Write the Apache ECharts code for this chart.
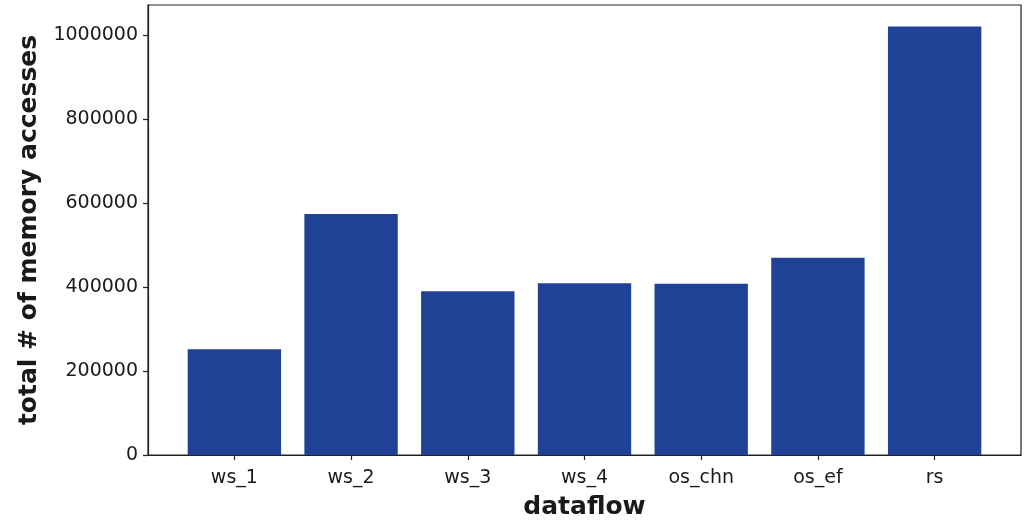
<!DOCTYPE html>
<html>
<head>
<meta charset="utf-8">
<script src="https://cdn.jsdelivr.net/npm/echarts@6/dist/echarts.min.js"></script>
<style>
  html, body { margin: 0; padding: 0; background: #fff; }
  #chart { width: 1029px; height: 529px; }
</style>
</head>
<body>
<div id="chart"></div>
<script>
// Memory accesses per dataflow
const categories = ['ws_1', 'ws_2', 'ws_3', 'ws_4', 'os_chn', 'os_ef', 'rs'];
const accesses = [252000, 574000, 390000, 409000, 408000, 470000, 1021000];
const yTicks = [0, 200000, 400000, 600000, 800000, 1000000];

const GRID = { left: 148, right: 8, top: 5, bottom: 74 };
const WIDTH = 1029;
const BAR_FRAC = 0.8;
const xMin = -BAR_FRAC / 2 - 0.05 * (categories.length - 1 + BAR_FRAC);
const xMax = categories.length - 1 + BAR_FRAC / 2 + 0.05 * (categories.length - 1 + BAR_FRAC);
const unitPx = (WIDTH - GRID.left - GRID.right) / (xMax - xMin);
const yMax = Math.max(...accesses) * 1.05;

const chart = echarts.init(document.getElementById('chart'), null, { renderer: 'canvas' });
const textColor = '#1a1a1a';
const fontFamily = '"DejaVu Sans", sans-serif';

chart.setOption({
  animation: false,
  backgroundColor: '#fff',
  grid: {
    left: GRID.left, right: GRID.right, top: GRID.top, bottom: GRID.bottom,
    show: true, borderColor: '#222', borderWidth: 1.2, backgroundColor: 'transparent'
  },
  xAxis: {
    type: 'value',
    min: xMin,
    max: xMax,
    splitLine: { show: false },
    axisLine: { show: true, onZero: false, lineStyle: { color: '#222', width: 1.2 } },
    axisTick: {
      show: true, length: 5, inside: false,
      customValues: categories.map((_, i) => i),
      lineStyle: { color: '#222', width: 1.2 }
    },
    axisLabel: {
      customValues: categories.map((_, i) => i),
      formatter: v => categories[Math.round(v)] ?? '',
      color: textColor, fontSize: 19, fontFamily: fontFamily, margin: 14
    },
    name: 'dataflow',
    nameLocation: 'middle',
    nameGap: 40,
    nameTextStyle: { color: textColor, fontSize: 25, fontWeight: 'bold', fontFamily: fontFamily }
  },
  yAxis: {
    type: 'value',
    min: 0,
    max: yMax,
    splitLine: { show: false },
    axisLine: { show: true, onZero: false, lineStyle: { color: '#222', width: 1.2 } },
    axisTick: {
      show: true, length: 5,
      customValues: yTicks,
      lineStyle: { color: '#222', width: 1.2 }
    },
    axisLabel: {
      customValues: yTicks,
      formatter: v => String(v),
      color: textColor, fontSize: 19, fontFamily: fontFamily, margin: 10
    },
    name: 'total # of memory accesses',
    nameLocation: 'middle',
    nameGap: 106,
    nameTextStyle: { color: textColor, fontSize: 25, fontWeight: 'bold', fontFamily: fontFamily }
  },
  series: [{
    type: 'bar',
    data: accesses.map((v, i) => [i, v]),
    barWidth: unitPx * BAR_FRAC,
    itemStyle: { color: '#1f4297' }
  }]
});
</script>
</body>
</html>
